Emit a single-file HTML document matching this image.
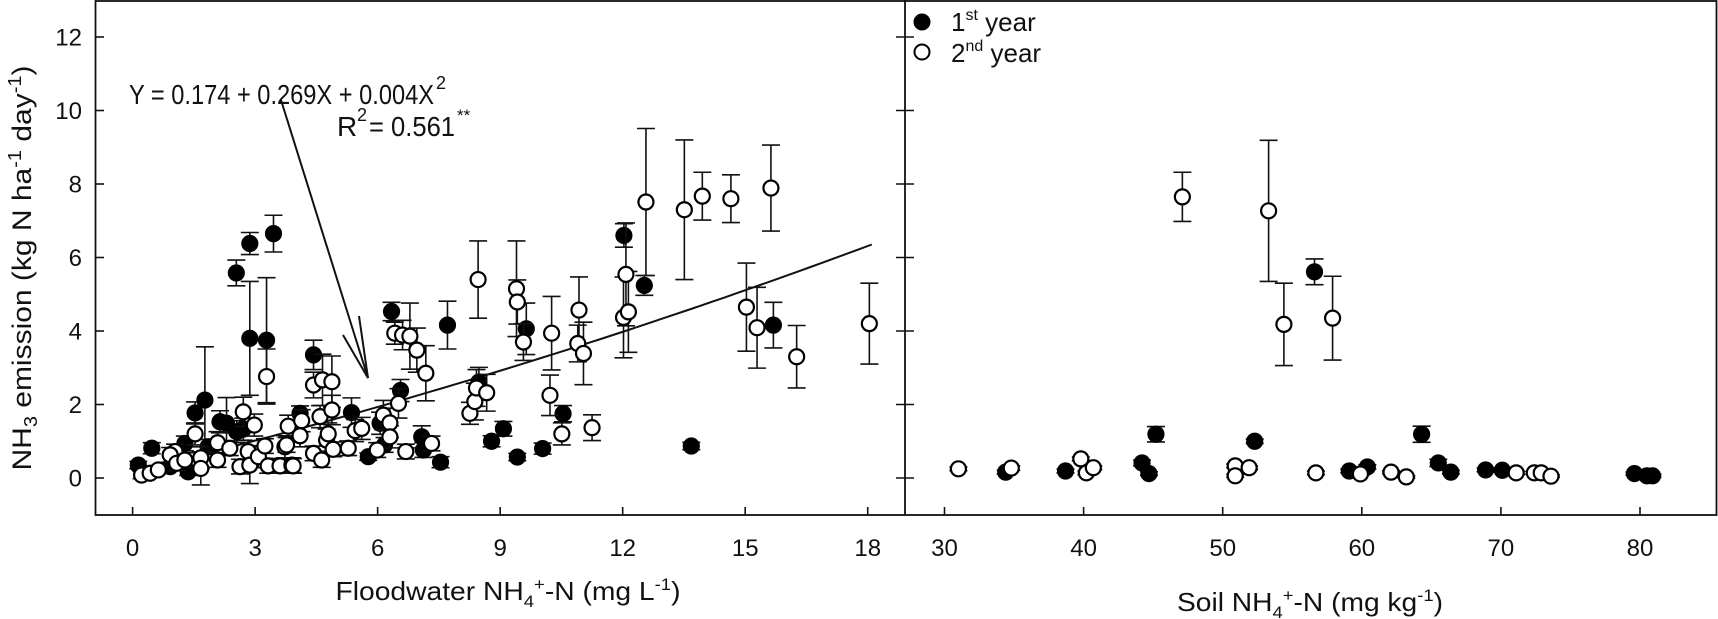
<!DOCTYPE html>
<html><head><meta charset="utf-8"><style>
html,body{margin:0;padding:0;background:#fff;}
svg{display:block;font-family:"Liberation Sans",Arial,sans-serif;}
</style></head><body>
<svg id="chart" width="1718" height="619" viewBox="0 0 1718 619" xmlns="http://www.w3.org/2000/svg">
<g id="frame">
<rect x="95.5" y="1" width="1621" height="514" fill="none" stroke="#111" stroke-width="1.8"/>
<line x1="905" y1="0" x2="905" y2="515" stroke="#111" stroke-width="1.8"/>
</g>
<g id="ticks"></g>
<g id="fit"></g>
<g id="marks"></g>
<text transform="translate(31,268) rotate(-90)" text-anchor="middle" font-size="27" fill="#111" textLength="405" lengthAdjust="spacingAndGlyphs">NH<tspan font-size="18" dy="6">3</tspan><tspan dy="-6"> emission (kg N ha</tspan><tspan font-size="18" dy="-10">-1</tspan><tspan dy="10"> day</tspan><tspan font-size="18" dy="-10">-1</tspan><tspan dy="10">)</tspan></text>
<text x="508" y="600" text-anchor="middle" font-size="26" fill="#111" textLength="345" lengthAdjust="spacingAndGlyphs">Floodwater NH<tspan font-size="17" dy="7">4</tspan><tspan font-size="17" dy="-17">+</tspan><tspan dy="10">-N (mg L</tspan><tspan font-size="17" dy="-10">-1</tspan><tspan dy="10">)</tspan></text>
<text x="1310" y="611" text-anchor="middle" font-size="26" fill="#111" textLength="266" lengthAdjust="spacingAndGlyphs">Soil NH<tspan font-size="17" dy="7">4</tspan><tspan font-size="17" dy="-17">+</tspan><tspan dy="10">-N (mg kg</tspan><tspan font-size="17" dy="-10">-1</tspan><tspan dy="10">)</tspan></text>
<g fill="#111">
<text x="129" y="104" font-size="28" textLength="305" lengthAdjust="spacingAndGlyphs">Y = 0.174 + 0.269X + 0.004X</text>
<text x="436" y="89" font-size="18">2</text>
</g>
<g fill="#111">
<text x="337" y="136" font-size="28">R</text>
<text x="357" y="121" font-size="18">2</text>
<text x="369" y="136" font-size="28" textLength="86" lengthAdjust="spacingAndGlyphs">= 0.561</text>
<text x="457" y="121" font-size="17">**</text>
</g>
<g stroke="#111" stroke-width="2" fill="none">
<line x1="281" y1="100" x2="368" y2="378"/>
<polyline points="343,335 368,378 359,316"/>
</g>
<g>
<circle cx="922" cy="22" r="7.5" fill="#000" stroke="#000" stroke-width="2"/>
<text x="951" y="31" font-size="26" fill="#111">1<tspan font-size="16" dy="-11">st</tspan><tspan dy="11"> year</tspan></text>
<circle cx="922" cy="52" r="7.5" fill="#fff" stroke="#000" stroke-width="2"/>
<text x="951" y="62" font-size="26" fill="#111">2<tspan font-size="16" dy="-11">nd</tspan><tspan dy="11"> year</tspan></text>
</g>
</svg>
<script>
// Left panel: floodwater NH4+-N vs NH3 emission
const leftY1X=[0.14,0.47,0.92,1.28,1.36,1.53,1.77,1.85,2.14,2.30,2.54,2.55,2.71,2.87,2.87,3.28,3.45,4.10,4.43,5.36,5.77,6.06,6.17,6.34,6.56,7.08,7.12,7.54,7.71,8.48,8.79,9.08,9.42,9.64,10.04,10.54,12.03,12.53,13.68,15.69];
const leftY1Y=[0.35,0.81,0.31,0.94,0.17,1.77,2.12,0.85,1.53,1.49,5.58,1.26,1.33,6.38,3.80,3.75,6.65,1.76,3.35,1.78,0.58,1.49,0.90,4.53,2.38,1.12,0.76,0.43,4.16,2.61,1.00,1.34,0.57,4.06,0.80,1.75,6.60,5.24,0.87,4.16];
const leftY1E=[0.1,0.15,0.1,0.2,0.1,0.3,1.45,0.2,0.3,0.7,0.35,0.3,0.3,0.3,1.55,1.7,0.5,0.2,0.4,0.4,0.1,0.3,0.2,0.25,0.3,0.3,0.2,0.15,0.65,0.4,0.15,0.2,0.1,0.7,0.15,0.22,0.32,0.27,0.1,0.62];
const leftY2X=[0.22,0.43,0.63,1.04,0.92,1.08,1.28,1.53,1.67,1.67,2.08,2.08,2.38,2.63,2.71,2.83,2.87,2.98,3.08,3.24,3.28,3.32,3.61,3.73,3.81,3.90,3.93,4.14,4.10,3.77,4.43,4.43,4.59,4.63,4.65,4.75,4.79,4.88,4.88,4.91,5.28,5.45,5.61,5.99,6.14,6.30,6.30,6.42,6.51,6.61,6.69,6.79,6.96,7.18,7.32,8.26,8.38,8.42,8.67,8.46,9.40,9.42,9.57,10.22,10.26,10.51,10.90,10.93,11.04,11.25,12.02,12.08,12.14,12.57,13.51,13.95,14.65,15.03,15.29,15.63,16.26,18.04];
const leftY2Y=[0.08,0.13,0.22,0.72,0.63,0.40,0.49,1.20,0.55,0.26,0.96,0.49,0.81,0.31,1.80,0.72,0.35,1.44,0.58,0.87,2.76,0.33,0.33,0.85,1.41,0.35,0.33,1.56,1.15,0.90,2.53,0.67,1.67,0.49,2.67,1.03,1.20,2.62,1.85,0.78,0.81,1.29,1.35,0.76,1.71,1.50,1.12,3.94,2.03,3.89,0.72,3.86,3.48,2.85,0.94,1.76,2.08,2.45,2.32,5.40,5.15,4.79,3.70,2.25,3.94,1.20,3.66,4.57,3.39,1.37,4.37,5.54,4.52,7.51,7.30,7.67,7.60,4.65,4.09,7.89,3.30,4.20];
const leftY2E=[0.1,0.1,0.1,0.2,0.2,0.2,0.2,0.3,0.3,0.45,0.3,0.2,0.2,0.2,0.4,0.3,0.5,0.3,0.3,0.2,0.75,0.2,0.2,0.3,0.3,0.2,0.2,0.3,0.3,0.2,0.35,0.2,0.3,0.2,0.7,0.3,0.3,0.7,0.4,0.2,0.2,0.3,0.3,0.2,0.4,0.4,0.3,0.3,0.4,0.4,0.2,0.9,0.6,0.75,0.2,0.3,0.5,0.5,0.5,1.05,1.3,0.6,0.5,0.55,1.0,0.3,0.5,0.9,0.85,0.35,1.1,1.4,1.1,2.0,1.9,0.65,0.65,1.2,1.1,1.17,0.85,1.1];
// Right panel: soil NH4+-N vs NH3 emission
const rightY1X=[34.4,38.7,44.2,44.7,45.2,52.3,56.6,59.1,60.4,64.3,65.5,66.4,68.9,70.1,79.6,80.5,80.9];
const rightY1Y=[0.16,0.19,0.41,0.12,1.19,1.00,5.61,0.19,0.30,1.19,0.41,0.16,0.22,0.21,0.12,0.06,0.06];
const rightY1E=[0.05,0.05,0.08,0.05,0.21,0.06,0.35,0.05,0.06,0.22,0.1,0.05,0.05,0.05,0.04,0.04,0.04];
const rightY2X=[31.0,34.8,39.8,40.2,40.7,47.1,53.3,54.4,57.9,50.9,50.9,51.9,56.7,59.9,62.1,63.2,71.1,72.4,72.9,73.6];
const rightY2Y=[0.25,0.27,0.52,0.14,0.28,7.65,7.27,4.18,4.35,0.33,0.06,0.28,0.14,0.11,0.16,0.03,0.14,0.14,0.14,0.05];
const rightY2E=[0.05,0.06,0.05,0.05,0.05,0.67,1.92,1.12,1.14,0.05,0.04,0.05,0.05,0.04,0.04,0.03,0.04,0.04,0.04,0.03];
const yTicks=[0,2,4,6,8,10,12];
const leftXTicks=[0,3,6,9,12,15,18];
const rightXTicks=[30,40,50,60,70,80];
const fitCoef=[0.174,0.269,0.004];
const fitRange=[0.1,18.1];

const NS='http://www.w3.org/2000/svg';
const lx=v=>132.6+v*40.84;
const rx=v=>944.5+(v-30)*13.91;
const yy=v=>478-v*36.75;
function mk(tag,attrs,parent){const e=document.createElementNS(NS,tag);for(const k in attrs)e.setAttribute(k,attrs[k]);parent.appendChild(e);return e;}
const ticks=document.getElementById('ticks');
yTicks.forEach(t=>{
  const y=yy(t);
  const a=mk('line',{x1:95,y1:y,x2:104,y2:y,stroke:'#111','stroke-width':1.6},ticks);
  
  
  const b=mk('line',{x1:896,y1:y,x2:914,y2:y,stroke:'#111','stroke-width':1.6},ticks);
  
  
  const l=mk('text',{x:82,y:y+8.5,'text-anchor':'end','font-size':24,fill:'#111'},ticks);
  l.textContent=t;
  
  
});
leftXTicks.forEach(t=>{
  const x=lx(t);
  const a=mk('line',{x1:x,y1:507,x2:x,y2:515,stroke:'#111','stroke-width':1.6},ticks);
  
  
  const l=mk('text',{x:x,y:556,'text-anchor':'middle','font-size':24,fill:'#111'},ticks);
  l.textContent=t;
  
  
});
rightXTicks.forEach(t=>{
  const x=rx(t);
  const a=mk('line',{x1:x,y1:507,x2:x,y2:515,stroke:'#111','stroke-width':1.6},ticks);
  
  
  const l=mk('text',{x:x,y:556,'text-anchor':'middle','font-size':24,fill:'#111'},ticks);
  l.textContent=t;
  
  
});
// regression curve
const fitG=document.getElementById('fit');
let d='';
for(let i=0;i<=60;i++){const x=fitRange[0]+(fitRange[1]-fitRange[0])*i/60;const y=fitCoef[0]+fitCoef[1]*x+fitCoef[2]*x*x;d+=(i?'L':'M')+lx(x).toFixed(1)+','+yy(y).toFixed(1);}
const fp=mk('path',{d:d,fill:'none',stroke:'#111','stroke-width':2},fitG);


const marks=document.getElementById('marks');
function series(xs,ys,es,sx,filled,name){
  const g=mk('g',{},marks);
  
  
  xs.forEach((xv,i)=>{
    const cx=sx(xv),cy=yy(ys[i]),t=yy(ys[i]+es[i]),b=yy(ys[i]-es[i]);
    const eb=mk('path',{d:`M${cx},${t}V${b}M${cx-9},${t}H${cx+9}M${cx-9},${b}H${cx+9}`,stroke:'#111','stroke-width':1.6,fill:'none'},g);
    
    
  });
  xs.forEach((xv,i)=>{
    const c=mk('circle',{cx:sx(xv),cy:yy(ys[i]),r:7.5,fill:filled?'#000':'#fff',stroke:'#000','stroke-width':2.2},g);
    
    
  });
}
series(leftY1X,leftY1Y,leftY1E,lx,true,'left-year1-series');
series(leftY2X,leftY2Y,leftY2E,lx,false,'left-year2-series');
series(rightY1X,rightY1Y,rightY1E,rx,true,'right-year1-series');
series(rightY2X,rightY2Y,rightY2E,rx,false,'right-year2-series');
</script>
</body></html>
